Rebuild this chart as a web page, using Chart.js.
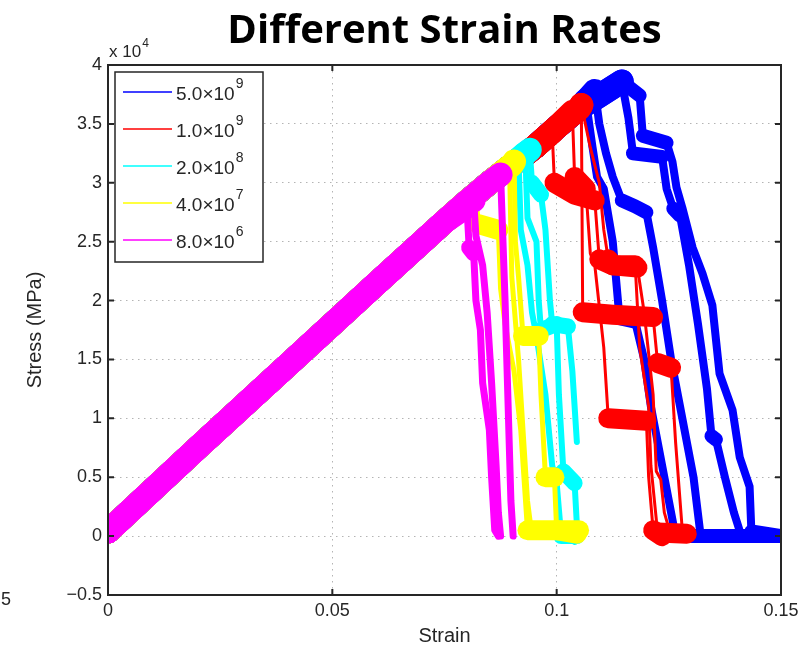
<!DOCTYPE html>
<html>
<head>
<meta charset="utf-8">
<script src="https://cdn.jsdelivr.net/npm/chart.js@4.4.0/dist/chart.umd.min.js"></script>
<style>
  html, body { margin: 0; padding: 0; background: #fff; }
</style>
</head>
<body>
<canvas id="chart" width="809" height="651"></canvas>
<script>
// Legend: strain rates, drawn in this order
const rateLabels = ['5.0×10', '1.0×10', '2.0×10', '4.0×10', '8.0×10'];
const rateExponents = ['9', '9', '8', '7', '6'];
const rateColors = ['#0000ff', '#ff0000', '#00ffff', '#ffff00', '#ff00ff'];

// Axis ticks
const xTicks = [0, 0.05, 0.1, 0.15];
const xTickLabels = ['0', '0.05', '0.1', '0.15'];
const yTicks = [-0.5, 0, 0.5, 1, 1.5, 2, 2.5, 3, 3.5, 4];
const yTickLabels = ['\u22120.5', '0', '0.5', '1', '1.5', '2', '2.5', '3', '3.5', '4'];

// Shared elastic loading branch (stress in units of 1e4 MPa)
const loadStrain = [0, 0.02, 0.04, 0.06, 0.075, 0.08, 0.085, 0.09, 0.095, 0.1, 0.105, 0.11, 0.1145];
const loadStress = [0.04, 0.75, 1.45, 2.15, 2.67, 2.84, 3.0, 3.15, 3.3, 3.47, 3.63, 3.75, 3.86];

// Failure branches, 5.0e9
const blue1Strain = [0.1145, 0.1185, 0.1192, 0.1245, 0.1258, 0.1267, 0.128, 0.1303, 0.1325, 0.1347, 0.1363, 0.1392, 0.1408, 0.143, 0.1434, 0.15];
const blue1Stress = [3.86, 3.74, 3.40, 3.34, 3.18, 2.96, 2.79, 2.45, 2.23, 1.96, 1.38, 1.07, 0.67, 0.42, 0.04, 0.0];
const blue2Strain = [0.1145, 0.116, 0.117, 0.1235, 0.1245, 0.126, 0.1275, 0.1295, 0.1315, 0.1335, 0.1345, 0.1355, 0.1375, 0.1395, 0.141];
const blue2Stress = [3.86, 3.55, 3.25, 3.22, 2.95, 2.78, 2.72, 2.3, 1.8, 1.25, 0.85, 0.82, 0.5, 0.2, 0.02];
const blue3Strain = [0.1085, 0.1095, 0.111, 0.1125, 0.1145, 0.1175, 0.12, 0.1215, 0.1235, 0.1255, 0.128, 0.1305, 0.132];
const blue3Stress = [3.78, 3.5, 3.25, 3.05, 2.85, 2.8, 2.75, 2.45, 2.0, 1.5, 1.0, 0.5, 0.03];
const blue4Strain = [0.1065, 0.108, 0.109, 0.1105, 0.1125, 0.114, 0.1175, 0.1195, 0.121, 0.1235, 0.126, 0.127, 0.15];
const blue4Stress = [3.7, 3.3, 3.05, 2.95, 2.5, 1.85, 1.82, 1.5, 1.1, 0.6, 0.1, 0.0, 0.0];

// Failure branches, 1.0e9
const red1Strain = [0.099, 0.0995, 0.104, 0.1085, 0.1095, 0.1125, 0.1175, 0.1185, 0.1205, 0.121, 0.1225, 0.129];
const red1Stress = [3.43, 3.0, 2.9, 2.85, 2.35, 2.3, 2.3, 1.6, 1.1, 0.6, 0.03, 0.02];
const red2Strain = [0.1055, 0.1058, 0.1125, 0.1215, 0.1225, 0.1255, 0.1265, 0.128];
const red2Stress = [3.66, 1.9, 1.88, 1.86, 1.47, 1.43, 0.8, 0.05];
const red3Strain = [0.1035, 0.104, 0.1065, 0.1075, 0.1085, 0.1105, 0.1115, 0.12, 0.1205, 0.1215, 0.1235];
const red3Stress = [3.6, 3.05, 2.95, 2.4, 2.3, 1.6, 1.0, 0.98, 0.5, 0.05, 0.0];
const red4Strain = [0.1055, 0.1075, 0.1095, 0.1105, 0.1115, 0.1125, 0.118, 0.1195, 0.1215, 0.1222, 0.1232, 0.124, 0.1255];
const red4Stress = [3.66, 3.3, 3.0, 2.6, 2.35, 2.3, 2.28, 1.9, 1.2, 0.55, 0.48, 0.2, 0.0];

// Failure branches, 2.0e8
const cyan1Strain = [0.094, 0.0945, 0.0965, 0.0975, 0.0985, 0.099, 0.1025, 0.1035, 0.1045];
const cyan1Stress = [3.28, 3.0, 2.9, 2.6, 2.0, 1.8, 1.78, 1.4, 0.8];
const cyan2Strain = [0.093, 0.0935, 0.0955, 0.096, 0.0965, 0.1, 0.1005, 0.1015, 0.104, 0.1045, 0.104];
const cyan2Stress = [3.25, 2.7, 2.5, 2.0, 1.75, 1.8, 1.2, 0.55, 0.45, 0.1, -0.05];
const cyan3Strain = [0.0915, 0.092, 0.0935, 0.0945, 0.0955, 0.0975, 0.099, 0.1, 0.101, 0.1045];
const cyan3Stress = [3.2, 2.6, 2.3, 1.9, 1.7, 1.2, 0.6, 0.45, 0.0, 0.0];

// Failure branches, 4.0e7
const yellow1Strain = [0.082, 0.0825, 0.087, 0.0875, 0.0885, 0.0905, 0.092, 0.0935, 0.105];
const yellow1Stress = [2.9, 2.65, 2.6, 2.1, 1.8, 1.4, 0.9, 0.05, 0.05];
const yellow2Strain = [0.0905, 0.0908, 0.0915, 0.0925, 0.096, 0.0965, 0.0975, 0.0995, 0.1, 0.1045];
const yellow2Stress = [3.18, 2.5, 2.2, 1.7, 1.7, 1.2, 0.5, 0.5, 0.05, 0.02];
const yellow3Strain = [0.0895, 0.09, 0.0915, 0.0925, 0.0935, 0.0945];
const yellow3Stress = [3.14, 2.2, 1.5, 0.9, 0.3, 0.0];

// Failure branches, 8.0e6
const magenta1Strain = [0.08, 0.0805, 0.0815, 0.082, 0.083, 0.0835, 0.085, 0.0855, 0.0862, 0.087];
const magenta1Stress = [2.8, 2.45, 2.4, 2.0, 1.75, 1.3, 0.9, 0.5, 0.05, 0.0];
const magenta2Strain = [0.0875, 0.0885, 0.0898, 0.0903];
const magenta2Stress = [3.07, 2.0, 0.3, 0.0];
const magenta3Strain = [0.0815, 0.082, 0.0835, 0.0845, 0.0855, 0.0865, 0.087, 0.0875];
const magenta3Stress = [2.85, 2.55, 2.3, 1.9, 1.3, 0.6, 0.2, 0.0];

const curvesByRate = [
    [[blue1Strain, blue1Stress], [blue2Strain, blue2Stress], [blue3Strain, blue3Stress], [blue4Strain, blue4Stress]],
    [[red1Strain, red1Stress], [red2Strain, red2Stress], [red3Strain, red3Stress], [red4Strain, red4Stress]],
    [[cyan1Strain, cyan1Stress], [cyan2Strain, cyan2Stress], [cyan3Strain, cyan3Stress]],
    [[yellow1Strain, yellow1Stress], [yellow2Strain, yellow2Stress], [yellow3Strain, yellow3Stress]],
    [[magenta1Strain, magenta1Stress], [magenta2Strain, magenta2Stress], [magenta3Strain, magenta3Stress]]
];

// line widths: [plateau, steep drop] per rate
const bandWidth = 24;
const rateWidths = [[14, 8], [20, 3], [16, 6], [20, 5], [16, 7]];

function buildCurve(strain, stress) {
    const pts = [];
    for (let i = 0; i < loadStrain.length && loadStrain[i] < strain[0]; i++) {
        pts.push({ x: loadStrain[i], y: loadStress[i] });
    }
    const nLoad = pts.length;
    strain.forEach((s, i) => pts.push({ x: s, y: stress[i] }));
    return { pts, nLoad };
}

const datasets = [];
curvesByRate.forEach((curves, r) => {
    curves.forEach(([strain, stress]) => {
        const { pts, nLoad } = buildCurve(strain, stress);
        const [thick, thin] = rateWidths[r];
        datasets.push({
            data: pts,
            borderColor: rateColors[r],
            order: 4 - r, // magenta on top
            borderWidth: thick,
            borderCapStyle: 'round',
            borderJoinStyle: 'round',
            pointRadius: 0,
            tension: 0,
            clip: 0,
            segment: {
                borderWidth: c => {
                    if (c.p1DataIndex <= nLoad) return bandWidth;
                    const dx = Math.abs(c.p1.x - c.p0.x);
                    const dy = Math.abs(c.p1.y - c.p0.y);
                    return dy > 1.5 * dx ? thin : thick;
                }
            }
        });
    });
});

const AXIS = '#262626';
const FONT = '"Liberation Sans", Arial, sans-serif';

// MATLAB-like box, inner ticks, legend and exponent label
const matlabFrame = {
    id: 'matlabFrame',
    afterDatasetsDraw(chart) {
        const { ctx, chartArea: a, scales } = chart;
        ctx.save();
        ctx.strokeStyle = AXIS;
        ctx.lineWidth = 2;
        ctx.beginPath();
        xTicks.forEach(v => {
            const x = scales.x.getPixelForValue(v);
            ctx.moveTo(x, a.bottom); ctx.lineTo(x, a.bottom - 6);
            ctx.moveTo(x, a.top); ctx.lineTo(x, a.top + 6);
        });
        yTicks.forEach(v => {
            const y = scales.y.getPixelForValue(v);
            ctx.moveTo(a.left, y); ctx.lineTo(a.left + 6, y);
            ctx.moveTo(a.right, y); ctx.lineTo(a.right - 6, y);
        });
        ctx.stroke();
        ctx.strokeRect(a.left, a.top, a.right - a.left, a.bottom - a.top);

        // legend box
        const x0 = a.left + 7, y0 = a.top + 7, w = 148, h = 190;
        ctx.fillStyle = '#fff';
        ctx.fillRect(x0, y0, w, h);
        ctx.lineWidth = 1.5;
        ctx.strokeRect(x0, y0, w, h);
        ctx.textBaseline = 'alphabetic';
        rateLabels.forEach((lab, i) => {
            const y = y0 + 20 + i * 37;
            ctx.strokeStyle = rateColors[i];
            ctx.lineWidth = 1.5;
            ctx.beginPath();
            ctx.moveTo(x0 + 8, y); ctx.lineTo(x0 + 57, y);
            ctx.stroke();
            ctx.fillStyle = AXIS;
            ctx.font = '19px ' + FONT;
            ctx.fillText(lab, x0 + 61, y + 8);
            const wMain = ctx.measureText(lab).width;
            ctx.font = '14px ' + FONT;
            ctx.fillText(rateExponents[i], x0 + 62 + wMain, y - 4);
        });

        // exponent label above y axis
        ctx.font = '17px ' + FONT;
        ctx.fillText('x 10', a.left + 1, a.top - 8);
        const wx = ctx.measureText('x 10').width;
        ctx.font = '12px ' + FONT;
        ctx.fillText('4', a.left + 2 + wx, a.top - 18);

        // clipped label from neighbouring panel
        ctx.font = '18px ' + FONT;
        ctx.fillText('5', 1, a.bottom + 10);
        ctx.restore();
    }
};

new Chart(document.getElementById('chart'), {
    type: 'line',
    data: { datasets },
    options: {
        responsive: false,
        animation: false,
        devicePixelRatio: 1,
        layout: { padding: { left: 0, right: 28, top: 0, bottom: 0 } },
        plugins: {
            legend: { display: false },
            tooltip: { enabled: false },
            title: {
                display: true,
                text: 'Different Strain Rates',
                fullSize: false,
                color: '#000',
                font: { family: '"Open Sans"', weight: 'bold', size: 40, lineHeight: 1.2 },
                padding: { top: 8, bottom: 9 }
            }
        },
        scales: {
            x: {
                type: 'linear',
                min: 0,
                max: 0.15,
                afterBuildTicks: s => { s.ticks = xTicks.map(v => ({ value: v })); },
                afterFit: s => { s.height = 56; },
                ticks: {
                    callback: (v, i) => xTickLabels[i],
                    color: AXIS,
                    padding: 5,
                    maxRotation: 0,
                    font: { family: FONT, size: 18 }
                },
                grid: { color: '#b4b4b4', lineWidth: 1, drawTicks: false },
                border: { display: false, dash: [1.5, 4.5] },
                title: {
                    display: true,
                    text: 'Strain',
                    color: AXIS,
                    font: { family: FONT, size: 20 },
                    padding: { top: 0, bottom: 3 }
                }
            },
            y: {
                type: 'linear',
                min: -0.5,
                max: 4,
                afterBuildTicks: s => { s.ticks = yTicks.map(v => ({ value: v })); },
                afterFit: s => { s.width = 108; },
                ticks: {
                    callback: (v, i) => yTickLabels[i],
                    color: AXIS,
                    padding: 6,
                    font: { family: FONT, size: 18 }
                },
                grid: { color: '#b4b4b4', lineWidth: 1, drawTicks: false },
                border: { display: false, dash: [1.5, 4.5] },
                title: {
                    display: true,
                    text: 'Stress (MPa)',
                    color: AXIS,
                    font: { family: FONT, size: 20 },
                    padding: { top: 23, bottom: 0 }
                }
            }
        }
    },
    plugins: [matlabFrame]
});
</script>
</body>
</html>
